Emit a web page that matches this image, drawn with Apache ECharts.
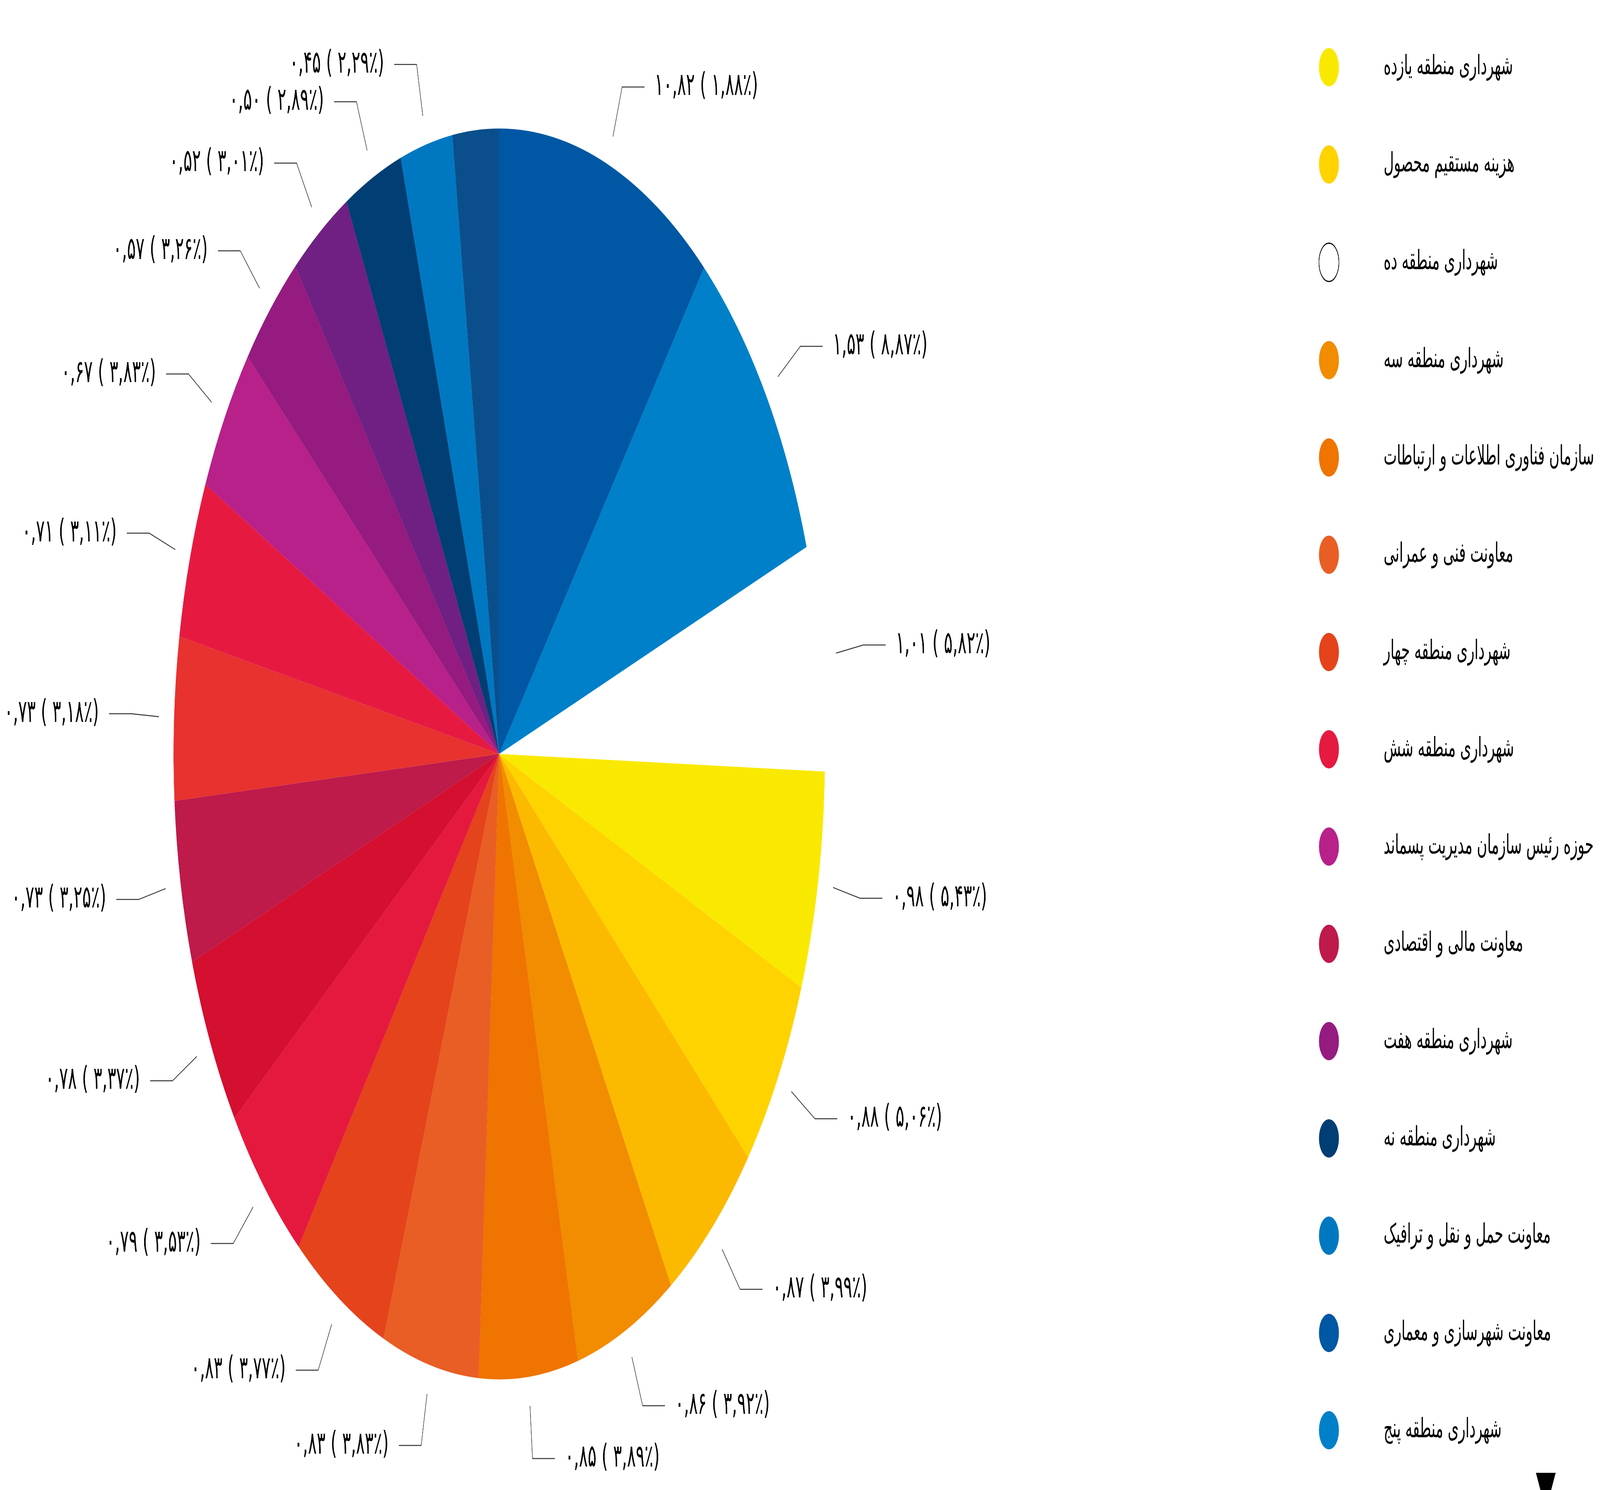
<!DOCTYPE html>
<html>
<head>
<meta charset="utf-8">
<script src="https://cdn.jsdelivr.net/npm/echarts@6/dist/echarts.min.js"></script>
<style>
html,body{margin:0;padding:0;background:#fff;overflow:hidden;}
#chart{width:7865px;height:3814px;transform-origin:0 0;}
</style>
</head>
<body>
<div id="chart"></div>
<script>
const categories = [
  'معاونت شهرسازی و معماری',
  'شهرداری منطقه پنج',
  'شهرداری منطقه ده',
  'شهرداری منطقه یازده',
  'هزینه مستقیم محصول',
  'شهرداری منطقه یک',
  'شهرداری منطقه سه',
  'سازمان فناوری اطلاعات و ارتباطات',
  'معاونت فنی و عمرانی',
  'شهرداری منطقه چهار',
  'شهرداری منطقه دو',
  'شهرداری منطقه هشت',
  'معاونت مالی و اقتصادی',
  'معاونت خدمات شهری',
  'شهرداری منطقه شش',
  'حوزه رئیس سازمان مدیریت پسماند',
  'شهرداری منطقه هفت',
  'شهرداری منطقه دوازده',
  'شهرداری منطقه نه',
  'معاونت حمل و نقل و ترافیک',
  'معاونت اجتماعی'
];
const values = [1.88, 1.53, 1.01, 0.98, 0.88, 0.87, 0.86, 0.85, 0.83, 0.83, 0.79, 0.78, 0.73, 0.73, 0.71, 0.67, 0.57, 0.52, 0.50, 0.45, 0.40];
const labelNumbers = [10.82, 1.53, 1.01, 0.98, 0.88, 0.87, 0.86, 0.85, 0.83, 0.83, 0.79, 0.78, 0.73, 0.73, 0.71, 0.67, 0.57, 0.52, 0.50, 0.45, null];
const labelPercents = [1.88, 8.87, 5.82, 5.43, 5.06, 3.99, 3.92, 3.89, 3.83, 3.77, 3.53, 3.37, 3.25, 3.18, 3.11, 3.83, 3.26, 3.01, 2.89, 2.29, null];
const colors = [
  '#0057A4', '#0080C9', '#FFFFFF', '#F9E900', '#FFD300', '#FBBA00', '#F28C00',
  '#EF7400', '#E95E24', '#E5431B', '#E5193E', '#D40F2F', '#BE1A4A', '#E73230',
  '#E61A41', '#B8218A', '#951B80', '#702082', '#003E73', '#0078C1', '#0A4F8B'
];
const legendOrder = [
  'شهرداری منطقه یازده',
  'هزینه مستقیم محصول',
  'شهرداری منطقه ده',
  'شهرداری منطقه سه',
  'سازمان فناوری اطلاعات و ارتباطات',
  'معاونت فنی و عمرانی',
  'شهرداری منطقه چهار',
  'شهرداری منطقه شش',
  'حوزه رئیس سازمان مدیریت پسماند',
  'معاونت مالی و اقتصادی',
  'شهرداری منطقه هفت',
  'شهرداری منطقه نه',
  'معاونت حمل و نقل و ترافیک',
  'معاونت شهرسازی و معماری',
  'شهرداری منطقه پنج',
  'شهرداری منطقه یک',
  'شهرداری منطقه دو',
  'شهرداری منطقه هشت',
  'معاونت خدمات شهری',
  'شهرداری منطقه دوازده',
  'معاونت اجتماعی'
];

// The chart is laid out on a 7865 x 3814 page; fit it to the real viewport.
const W = 7865, H = 3814;
const el = document.getElementById('chart');
const sx = (window.innerWidth || W) / W;
const sy = (window.innerHeight || H) / H;
if (Math.abs(sx - 1) > 1e-3 || Math.abs(sy - 1) > 1e-3) {
  el.style.transform = 'scale(' + sx + ',' + sy + ')';
}

const FONT = 'DejaVu Sans';
const faDigits = '۰۱۲۳۴۵۶۷۸۹';
function fa(n) {
  return n.toFixed(2).replace('.', ',').replace(/\d/g, d => faDigits[+d]);
}
const labelTexts = labelNumbers.map((n, i) => n == null ? '' : fa(n) + ' ( ' + fa(labelPercents[i]) + '٪)');

const pieData = categories.map((name, i) => {
  const item = { name: name, value: values[i], itemStyle: { color: colors[i] } };
  if (labelNumbers[i] == null) {
    item.label = { show: false };
    item.labelLine = { show: false };
  }
  return item;
});

const legendData = legendOrder.map(name => {
  const i = categories.indexOf(name);
  if (colors[i] === '#FFFFFF') {
    return { name: name, itemStyle: { color: '#FFFFFF', borderColor: '#000', borderWidth: 3 } };
  }
  return { name: name };
});

const chart = echarts.init(el, null, { width: W, height: H });
chart.setOption({
  backgroundColor: '#fff',
  animation: false,
  legend: {
    type: 'scroll',
    orient: 'vertical',
    left: 6477,
    top: 118,
    height: 3744,
    itemWidth: 98,
    itemHeight: 98,
    itemGap: 151,
    icon: 'circle',
    data: legendData,
    textStyle: { fontFamily: FONT, fontSize: 69, color: '#000', padding: [0, 0, 0, 215] },
    pageButtonGap: 10,
    pageIconColor: '#000',
    pageIconInactiveColor: 'rgba(0,0,0,0)',
    pageIconSize: 97,
    pageButtonItemGap: 390,
    pageFormatter: '',
    pageTextStyle: { color: 'rgba(0,0,0,0)', fontSize: 1 }
  },
  series: [{
    type: 'pie',
    center: [2454, 1930],
    radius: 1601,
    startAngle: 90,
    clockwise: true,
    avoidLabelOverlap: true,
    data: pieData,
    label: {
      show: true,
      position: 'outside',
      formatter: p => labelTexts[p.dataIndex],
      fontFamily: FONT,
      fontSize: 80,
      color: '#000',
      overflow: 'none',
      distanceToLabelLine: 50
    },
    labelLine: {
      show: true,
      length: 210,
      length2: 110,
      lineStyle: { color: '#333', width: 2.5 }
    },
    labelLayout: function (params) {
      const pts = params.labelLinePoints;
      if (!pts || pts.length < 3) return {};
      const dx = pts[1][0] - pts[0][0];
      const dy = pts[1][1] - pts[0][1];
      const L = Math.sqrt(dx * dx + dy * dy);
      if (L < 1) return {};
      const g = Math.min(75, L * 0.5);
      return {
        labelLinePoints: [[pts[0][0] + dx / L * g, pts[0][1] + dy / L * g], pts[1], pts[2]]
      };
    },
    emphasis: { disabled: true }
  }]
});
</script>
</body>
</html>
